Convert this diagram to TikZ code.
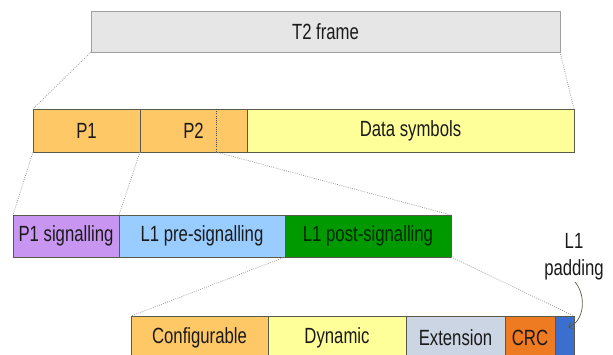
\documentclass[tikz,border=0pt]{standalone}
\usepackage{fontspec}
\setmainfont{Liberation Sans}[FakeStretch=0.76]
\usetikzlibrary{arrows.meta}
\definecolor{txt}{HTML}{1A1A1A}
\definecolor{frameg}{HTML}{E6E6E6}
\definecolor{orng}{HTML}{FFC866}
\definecolor{yell}{HTML}{FFFF99}
\definecolor{purp}{HTML}{C896F0}
\definecolor{lblue}{HTML}{99CCFF}
\definecolor{dgreen}{HTML}{009900}
\definecolor{extc}{HTML}{CCD5E3}
\definecolor{crcc}{HTML}{EE7A22}
\definecolor{padc}{HTML}{3A6FCF}
\definecolor{edge}{HTML}{5A5A4A}
\tikzset{
  seg/.style={draw=edge, line width=0.8pt, anchor=north west, inner sep=0pt, outer sep=0pt,
    text=txt, font=\fontsize{22}{26}\selectfont},
  zoomline/.style={draw=gray!80, line width=0.8pt, dash pattern=on 0.8pt off 1.4pt},
}
\begin{document}
\begin{tikzpicture}[x=1pt,y=-1pt]
\useasboundingbox (0,0) rectangle (613,355);
\clip (0,0) rectangle (613,355);
% T2 frame
\node[seg, draw=gray!75, fill=frameg, minimum width=469pt, minimum height=41pt] (t2) at (91,11) {T2 frame};
% row 2
\node[seg, fill=orng, minimum width=107pt, minimum height=43pt] (p1) at (33,109) {P1};
\node[seg, fill=orng, minimum width=107pt, minimum height=43pt] (p2) at (140,109) {P2};
\node[seg, fill=yell, minimum width=327pt, minimum height=43pt] (data) at (247,109) {Data symbols};
\coordinate (p2cutt) at (216,109);
\coordinate (p2cutb) at (216,152);
\draw[zoomline, draw=gray!60!black] (p2cutt) -- (p2cutb);
% row 3
\node[seg, fill=purp, minimum width=106pt, minimum height=42pt] (p1s) at (13,215) {P1 signalling};
\node[seg, fill=lblue, minimum width=166pt, minimum height=42pt] (l1pre) at (119,215) {L1 pre-signalling};
\node[seg, fill=dgreen, text=black!85!green, minimum width=166pt, minimum height=42pt] (l1post) at (285,215) {L1 post-signalling};
% row 4
\node[seg, fill=orng, minimum width=137pt, minimum height=43pt] (conf) at (131,316) {Configurable};
\node[seg, fill=yell, minimum width=138pt, minimum height=43pt] (dyn) at (268,316) {Dynamic};
\node[seg, fill=extc, minimum width=99pt, minimum height=43pt] (ext) at (406,316) {Extension};
\node[seg, fill=crcc, minimum width=50pt, minimum height=43pt] (crc) at (505,316) {CRC};
\node[seg, fill=padc, minimum width=19pt, minimum height=43pt] (pad) at (555,316) {};
% zoom lines
\draw[zoomline] (t2.south west) -- (p1.north west);
\draw[zoomline] (t2.south east) -- (data.north east);
\draw[zoomline] (p1.south west) -- (p1s.north west);
\draw[zoomline] (p1.south east) -- (p1s.north east);
\draw[zoomline] (p2cutb) -- (l1post.north east);
\draw[zoomline] (l1post.south west) -- (conf.north west);
\draw[zoomline] (l1post.south east) -- (pad.north east);
% padding label
\node[text=txt, font=\fontsize{22}{27}\selectfont, align=center, inner sep=0pt] (padlbl) at (574,257) {L1\\padding};
\coordinate (tipend) at (568,327);
\draw[draw=edge, line width=0.7pt, -{Straight Barb[length=4pt,width=7pt]}] (575,282) .. controls (587,296) and (584,322) .. (tipend);
\end{tikzpicture}
\end{document}
